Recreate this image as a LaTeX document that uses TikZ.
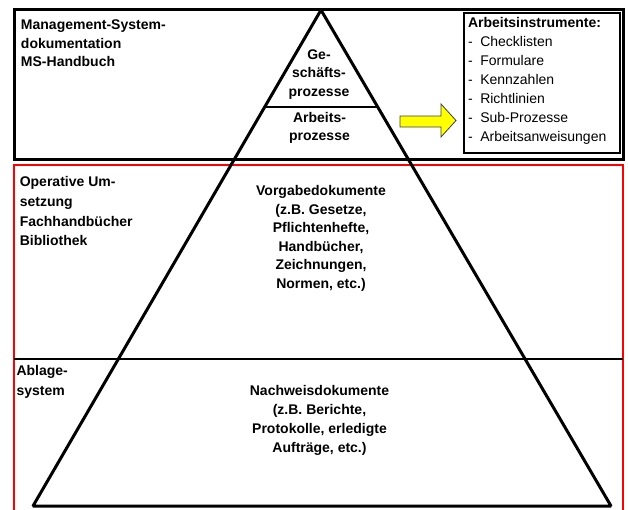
\documentclass[tikz,border=0pt]{standalone}
\usepackage{fontspec}
\setmainfont{Liberation Sans}

\tikzset{every picture/.style={line width=0.75pt}}
\tikzset{
  lbl/.style={inner sep=0pt, font=\bfseries\fontsize{10.5}{#1}\selectfont},
  lbl/.default=14,
  lst/.style={inner sep=0pt, font=\fontsize{10.5}{14.2}\selectfont, align=left}
}
\newcommand{\instritem}[1]{\makebox[9.2pt][l]{-}#1}

\begin{document}
\begin{tikzpicture}[x=0.75pt,y=0.75pt,yscale=-1,xscale=1]
\useasboundingbox (0,0) rectangle (628,510); %set diagram to 628 x 510

%Shape: Rectangle [upper frame]
\draw  [line width=2.25pt] (14,10) rectangle (623,159) ;
%Straight Lines [red frame, open at the bottom]
\draw  [color={rgb, 255:red, 255; green, 0; blue, 0 }, line width=1.5pt]  (14,512) -- (14,164.5) -- (622.5,164.5) -- (622.5,512) ;
%Straight Lines [layer line]
\draw  [line width=1.5pt]  (14,359) -- (622.5,359) ;
%Shape: Triangle [pyramid]
\draw  [line width=2.25pt, line join=bevel]  (321,10) -- (611,506) -- (33,506) -- cycle ;
%Straight Lines [top layer]
\draw  [line width=1.5pt]  (265,107) -- (378,107) ;
%Shape: Rectangle [tools box]
\draw  [line width=1.5pt] (464,13) rectangle (620,153) ;
%Shape: Right Arrow
\draw  [color={rgb, 255:red, 64; green, 64; blue, 64 }, fill={rgb, 255:red, 255; green, 255; blue, 0 }, line width=0.6pt]  (400,116) -- (441,116) -- (441,104) -- (456,120.5) -- (441,137) -- (441,127) -- (400,127) -- cycle ;

% Text Node (anchored at the baseline of the last line)
\draw (20.5,66.7) node (mgmt) [lbl, anchor=base west, align=left] {Management-System-\\dokumentation\\MS-Handbuch};
% Text Node
\draw (319,96) node (gesch) [lbl=13.75, anchor=base, align=center] {Ge-\\schäfts-\\prozesse};
% Text Node
\draw (319.5,140) node (arbp) [lbl=13, anchor=base, align=center] {Arbeits-\\prozesse};
% Text Node
\draw (467.5,141) node (instr) [lst, anchor=base west] {\textbf{Arbeitsinstrumente:}\\\instritem{Checklisten}\\\instritem{Formulare}\\\instritem{Kennzahlen}\\\instritem{Richtlinien}\\\instritem{Sub-Prozesse}\\\instritem{Arbeitsanweisungen}};
% Text Node
\draw (19.3,245.7) node (oper) [lbl=14.75, anchor=base west, align=left] {Operative Um-\\setzung\\Fachhandbücher\\Bibliothek};
% Text Node
\draw (321,288.3) node (vorg) [lbl=13.9, anchor=base, align=center] {Vorgabedokumente\\(z.B. Gesetze,\\Pflichtenhefte,\\Handbücher,\\Zeichnungen,\\Normen, etc.)};
% Text Node
\draw (16,395) node (ablage) [lbl=15, anchor=base west, align=left] {Ablage-\\system};
% Text Node
\draw (319.5,452.3) node (nachw) [lbl=14.3, anchor=base, align=center] {Nachweisdokumente\\(z.B. Berichte,\\Protokolle, erledigte\\Aufträge, etc.)};

\end{tikzpicture}
\end{document}
